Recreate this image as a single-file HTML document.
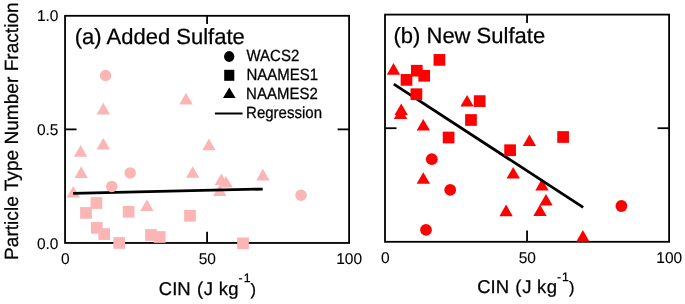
<!DOCTYPE html>
<html><head><meta charset="utf-8"><style>
html,body{margin:0;padding:0;background:#fff;width:685px;height:304px;overflow:hidden}
svg{display:block;will-change:transform;transform:translateZ(0)}
text{font-family:"Liberation Sans",sans-serif;fill:#000;stroke:#000;stroke-width:0.25px;text-rendering:geometricPrecision}
</style></head><body>
<svg width="685" height="304" viewBox="0 0 685 304">
<rect width="685" height="304" fill="#fff"/>
<rect x="65.05" y="15.8" width="284.05" height="227.15" fill="none" stroke="#000" stroke-width="1.8"/>
<line x1="65.05" y1="129.38" x2="76.55" y2="129.38" stroke="#000" stroke-width="1.8"/>
<line x1="349.1" y1="129.38" x2="337.6" y2="129.38" stroke="#000" stroke-width="1.8"/>
<line x1="207.08" y1="242.95" x2="207.08" y2="231.64999999999998" stroke="#000" stroke-width="1.8"/>
<line x1="207.08" y1="15.8" x2="207.08" y2="24.1" stroke="#000" stroke-width="1.8"/>
<rect x="385.0" y="14.6" width="284.10" height="227.20" fill="none" stroke="#000" stroke-width="1.8"/>
<line x1="385.0" y1="128.20" x2="396.5" y2="128.20" stroke="#000" stroke-width="1.8"/>
<line x1="669.1" y1="128.20" x2="657.6" y2="128.20" stroke="#000" stroke-width="1.8"/>
<line x1="527.05" y1="241.8" x2="527.05" y2="230.5" stroke="#000" stroke-width="1.8"/>
<line x1="527.05" y1="14.6" x2="527.05" y2="22.9" stroke="#000" stroke-width="1.8"/>
<polygon points="103.30,102.80 96.60,114.40 110.00,114.40" fill="#FBB5B5"/>
<polygon points="186.00,92.80 179.30,104.40 192.70,104.40" fill="#FBB5B5"/>
<polygon points="80.60,145.10 73.90,156.70 87.30,156.70" fill="#FBB5B5"/>
<polygon points="103.30,137.90 96.60,149.50 110.00,149.50" fill="#FBB5B5"/>
<polygon points="81.20,166.30 74.50,177.90 87.90,177.90" fill="#FBB5B5"/>
<polygon points="192.70,166.20 186.00,177.80 199.40,177.80" fill="#FBB5B5"/>
<polygon points="73.20,185.90 66.50,197.50 79.90,197.50" fill="#FBB5B5"/>
<polygon points="146.90,199.50 140.20,211.10 153.60,211.10" fill="#FBB5B5"/>
<polygon points="208.90,138.60 202.20,150.20 215.60,150.20" fill="#FBB5B5"/>
<polygon points="221.40,173.40 214.70,185.00 228.10,185.00" fill="#FBB5B5"/>
<polygon points="226.00,175.90 219.30,187.50 232.70,187.50" fill="#FBB5B5"/>
<polygon points="219.80,184.50 213.10,196.10 226.50,196.10" fill="#FBB5B5"/>
<polygon points="262.90,168.80 256.20,180.40 269.60,180.40" fill="#FBB5B5"/>
<line x1="73.1" y1="193.35" x2="262.7" y2="189.05" stroke="#000" stroke-width="2.8"/>
<rect x="90.55" y="197.15" width="11.7" height="11.7" fill="#FBB5B5"/>
<rect x="80.15" y="207.05" width="11.7" height="11.7" fill="#FBB5B5"/>
<rect x="122.75" y="205.95" width="11.7" height="11.7" fill="#FBB5B5"/>
<rect x="184.15" y="209.85" width="11.7" height="11.7" fill="#FBB5B5"/>
<rect x="90.95" y="222.05" width="11.7" height="11.7" fill="#FBB5B5"/>
<rect x="98.35" y="228.25" width="11.7" height="11.7" fill="#FBB5B5"/>
<rect x="113.35" y="237.15" width="11.7" height="11.7" fill="#FBB5B5"/>
<rect x="145.15" y="229.15" width="11.7" height="11.7" fill="#FBB5B5"/>
<rect x="153.85" y="231.15" width="11.7" height="11.7" fill="#FBB5B5"/>
<rect x="237.15" y="237.45" width="11.7" height="11.7" fill="#FBB5B5"/>
<circle cx="105.60" cy="75.50" r="5.75" fill="#FBB5B5"/>
<circle cx="130.20" cy="172.90" r="5.75" fill="#FBB5B5"/>
<circle cx="111.80" cy="186.40" r="5.75" fill="#FBB5B5"/>
<circle cx="301.00" cy="195.30" r="5.75" fill="#FBB5B5"/>
<polygon points="393.50,63.10 386.80,74.70 400.20,74.70" fill="#FD0000"/>
<polygon points="467.10,94.90 460.40,106.50 473.80,106.50" fill="#FD0000"/>
<polygon points="401.20,103.50 394.50,115.10 407.90,115.10" fill="#FD0000"/>
<polygon points="400.60,107.30 393.90,118.90 407.30,118.90" fill="#FD0000"/>
<polygon points="423.30,118.90 416.60,130.50 430.00,130.50" fill="#FD0000"/>
<polygon points="423.30,172.20 416.60,183.80 430.00,183.80" fill="#FD0000"/>
<polygon points="506.10,204.60 499.40,216.20 512.80,216.20" fill="#FD0000"/>
<polygon points="513.20,166.90 506.50,178.50 519.90,178.50" fill="#FD0000"/>
<polygon points="529.40,134.50 522.70,146.10 536.10,146.10" fill="#FD0000"/>
<polygon points="542.00,178.80 535.30,190.40 548.70,190.40" fill="#FD0000"/>
<polygon points="546.00,193.90 539.30,205.50 552.70,205.50" fill="#FD0000"/>
<polygon points="540.00,204.40 533.30,216.00 546.70,216.00" fill="#FD0000"/>
<polygon points="582.90,230.10 576.20,241.70 589.60,241.70" fill="#FD0000"/>
<line x1="393.8" y1="84.1" x2="583.2" y2="207.4" stroke="#000" stroke-width="2.8"/>
<rect x="433.55" y="54.05" width="11.7" height="11.7" fill="#FD0000"/>
<rect x="410.95" y="64.85" width="11.7" height="11.7" fill="#FD0000"/>
<rect x="418.35" y="69.95" width="11.7" height="11.7" fill="#FD0000"/>
<rect x="400.65" y="74.05" width="11.7" height="11.7" fill="#FD0000"/>
<rect x="410.55" y="88.35" width="11.7" height="11.7" fill="#FD0000"/>
<rect x="473.85" y="95.25" width="11.7" height="11.7" fill="#FD0000"/>
<rect x="465.15" y="114.15" width="11.7" height="11.7" fill="#FD0000"/>
<rect x="442.75" y="131.65" width="11.7" height="11.7" fill="#FD0000"/>
<rect x="504.25" y="144.35" width="11.7" height="11.7" fill="#FD0000"/>
<rect x="557.25" y="131.15" width="11.7" height="11.7" fill="#FD0000"/>
<circle cx="431.80" cy="159.20" r="5.9" fill="#FD0000"/>
<circle cx="450.20" cy="189.90" r="5.9" fill="#FD0000"/>
<circle cx="426.00" cy="229.90" r="5.9" fill="#FD0000"/>
<circle cx="621.40" cy="206.00" r="5.9" fill="#FD0000"/>
<text x="58.5" y="20.8" font-size="15.5" text-anchor="end" style="stroke-width:0.1px">1.0</text>
<text x="58.5" y="134.7" font-size="15.5" text-anchor="end" style="stroke-width:0.1px">0.5</text>
<text x="58.5" y="248.7" font-size="15.5" text-anchor="end" style="stroke-width:0.1px">0.0</text>
<text x="65.3" y="264.2" font-size="15.5" text-anchor="middle" style="stroke-width:0.1px">0</text>
<text x="207.25" y="264.2" font-size="15.5" text-anchor="middle" style="stroke-width:0.1px">50</text>
<text x="349.2" y="264.2" font-size="15.5" text-anchor="middle" style="stroke-width:0.1px">100</text>
<text x="385.4" y="263.4" font-size="15.5" text-anchor="middle" style="stroke-width:0.1px">0</text>
<text x="527.3499999999999" y="263.4" font-size="15.5" text-anchor="middle" style="stroke-width:0.1px">50</text>
<text x="669.3" y="263.4" font-size="15.5" text-anchor="middle" style="stroke-width:0.1px">100</text>
<text x="74.8" y="43.8" font-size="22" text-anchor="start" >(a) Added Sulfate</text>
<text x="393.5" y="42.5" font-size="22" text-anchor="start" >(b) New Sulfate</text>
<ellipse cx="229.2" cy="56.5" rx="5.15" ry="5.4" fill="#000"/>
<text transform="translate(246.5,60.7) scale(1,1.08)" x="0" y="0" font-size="15" text-anchor="start" >WACS2</text>
<rect x="224.2" y="69.8" width="10.1" height="11" fill="#000"/>
<text transform="translate(246.5,79.5) scale(1,1.08)" x="0" y="0" font-size="15" text-anchor="start" >NAAMES1</text>
<polygon points="229.30,87.60 223.00,98.00 235.60,98.00" fill="#000"/>
<text transform="translate(246.1,99.0) scale(1,1.08)" x="0" y="0" font-size="15" text-anchor="start" >NAAMES2</text>
<line x1="214.9" y1="113.5" x2="242.6" y2="113.5" stroke="#000" stroke-width="2"/>
<text transform="translate(246.1,117.5) scale(1,1.08)" x="0" y="0" font-size="15" text-anchor="start" >Regression</text>
<text x="158.8" y="294.8" font-size="18.5">CIN</text><text x="196.9" y="294.8" font-size="18.5" letter-spacing="0.7">(J</text><text x="218.70000000000002" y="294.8" font-size="18.5" letter-spacing="0.3">kg</text><text x="238.60000000000002" y="282.2" font-size="12.3">-</text><text x="243.70000000000002" y="282.2" font-size="12.3">1</text><text x="250.60000000000002" y="295.1" font-size="16.5">)</text>
<text x="477.2" y="293.1" font-size="18.5">CIN</text><text x="515.3" y="293.1" font-size="18.5" letter-spacing="0.7">(J</text><text x="537.1" y="293.1" font-size="18.5" letter-spacing="0.3">kg</text><text x="557.0" y="280.5" font-size="12.3">-</text><text x="562.1" y="280.5" font-size="12.3">1</text><text x="569.0" y="293.40000000000003" font-size="16.5">)</text>
<text transform="translate(17.6,259.9) rotate(-90)" font-size="19.1">Particle Type Number Fraction</text>
</svg>
</body></html>
